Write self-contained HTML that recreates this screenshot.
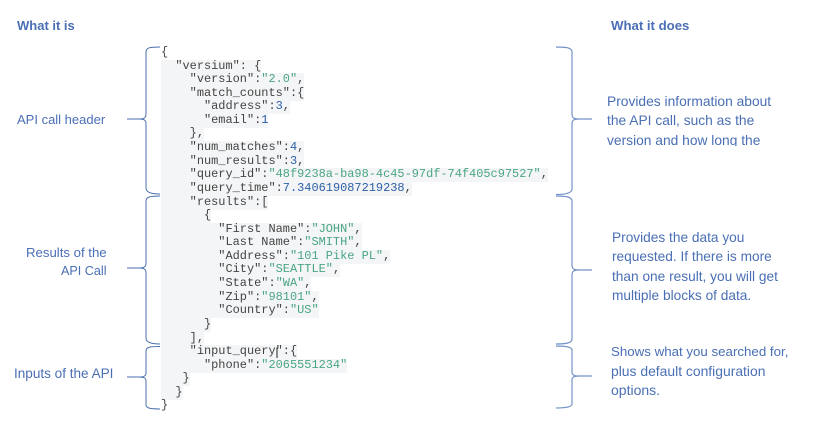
<!DOCTYPE html>
<html>
<head>
<meta charset="utf-8">
<style>
html,body{margin:0;padding:0;background:#fff}
#p{position:relative;width:817px;height:433px;overflow:hidden;background:#fff;font-family:"Liberation Sans",sans-serif;color:#4a6fb5}
.t{position:absolute;font-size:13.6px;line-height:19.4px;white-space:nowrap}
.h{font-weight:bold;color:#4a6fb5;font-size:13px}
.l{position:absolute;left:161px;height:13.6px;line-height:13.6px;font-family:"Liberation Mono",monospace;font-size:11.95px;white-space:pre;color:#444;background:#f4f5f6}
.n{background:none}
.s{color:#4aa585}
.d{color:#2b5fa8}
svg{position:absolute;left:0;top:0}
</style>
</head>
<body>
<div id="p">
<div class="l n" style="top:46px">{</div>
<div class="l" style="top:60px">  "versium": {</div>
<div class="l" style="top:73px">    "version":<span class="s">"2.0"</span>,</div>
<div class="l" style="top:87px">    "match_counts":{</div>
<div class="l" style="top:100px">      "address":<span class="d">3</span>,</div>
<div class="l" style="top:114px">      "email":<span class="d">1</span></div>
<div class="l" style="top:127px">    },</div>
<div class="l" style="top:141px">    "num_matches":<span class="d">4</span>,</div>
<div class="l" style="top:155px">    "num_results":<span class="d">3</span>,</div>
<div class="l" style="top:168px">    "query_id":<span class="s">"48f9238a-ba98-4c45-97df-74f405c97527"</span>,</div>
<div class="l" style="top:182px">    "query_time":<span class="d">7.340619087219238</span>,</div>
<div class="l" style="top:196px">    "results":[</div>
<div class="l" style="top:209px">      {</div>
<div class="l" style="top:223px">        "First Name":<span class="s">"JOHN"</span>,</div>
<div class="l" style="top:236px">        "Last Name":<span class="s">"SMITH"</span>,</div>
<div class="l" style="top:250px">        "Address":<span class="s">"101 Pike PL"</span>,</div>
<div class="l" style="top:263px">        "City":<span class="s">"SEATTLE"</span>,</div>
<div class="l" style="top:277px">        "State":<span class="s">"WA"</span>,</div>
<div class="l" style="top:291px">        "Zip":<span class="s">"98101"</span>,</div>
<div class="l" style="top:304px">        "Country":<span class="s">"US"</span></div>
<div class="l" style="top:318px">      }</div>
<div class="l" style="top:332px">    ],</div>
<div class="l" style="top:345px">    "input_query":{</div>
<div class="l" style="top:359px">      "phone":<span class="s">"2065551234"</span></div>
<div class="l" style="top:372px">   }</div>
<div class="l" style="top:386px">  }</div>
<div class="l n" style="top:399px">}</div>

<svg width="817" height="433" viewBox="0 0 817 433" fill="none">
<g stroke="#4a6fac" stroke-width="1">
<path d="M160 47 C150 47 146 47.500 146 52 V114 C146 118 144 119 139 119 H127 M139 119 C144 119 146 120 146 124 V188 C146 192 150 194 160 194"/>
<path d="M160 196 C150 196 146 197 146 201 V263 C146 267 144 268 139 268 H127 M139 268 C144 268 146 269 146 273 V338 C146 342 150 344 160 344"/>
<path d="M160 346.500 C150 346.500 146 347 146 351 V373 C146 376 144 377 139 377 H127 M139 377 C144 377 146 378 146 381 V405 C146 408 150 409 160 409"/>
</g>
<g stroke="#7492c9" stroke-width="1.2">
<path d="M556 47 C566 47 572 47.500 572 52 V114 C572 118 574 119 579 119 H592 M579 119 C574 119 572 120 572 124 V189 C572 193 566 194.500 556 194.500"/>
<path d="M556 196 C566 196 572 197 572 201 V265 C572 269 574 270 579 270 H592 M579 270 C574 270 572 271 572 275 V339 C572 343 566 344 556 344"/>
<path d="M556 346 C566 346 572 347 572 350 V372 C572 375 574 376 579 376 H592 M579 376 C574 376 572 377 572 380 V404 C572 407 566 408 556 408"/>
</g>
<path d="M277 347.500 V358" stroke="#222" stroke-width="1"/>
</svg>

<div class="t h" style="left:17px;top:16px">What it is</div>
<div class="t h" style="left:611px;top:16px;font-size:13.2px">What it does</div>

<div class="t" style="left:17px;top:110px;font-size:13px">API call header</div>
<div class="t" style="left:26px;top:243px;font-size:13.2px">Results of the</div>
<div class="t" style="left:61px;top:262px;font-size:12.6px">API Call</div>
<div class="t" style="left:14px;top:364px;font-size:13.55px">Inputs of the API</div>

<div class="t" style="left:607px;top:92px;height:54px;line-height:19.3px;overflow:hidden;font-size:13.8px">Provides information about<br>the API call, such as the<br>version and how long the</div>
<div class="t" style="left:612px;top:228px;font-size:13.7px">Provides the data you<br>requested. If there is more<br>than one result, you will get<br>multiple blocks of data.</div>
<div class="t" style="left:611px;top:342px;line-height:19.5px"><span style="font-size:13.3px">Shows what you searched for,</span><br><span style="font-size:13.9px">plus default configuration</span><br><span style="font-size:14px">options.</span></div>
</div>
</body>
</html>
